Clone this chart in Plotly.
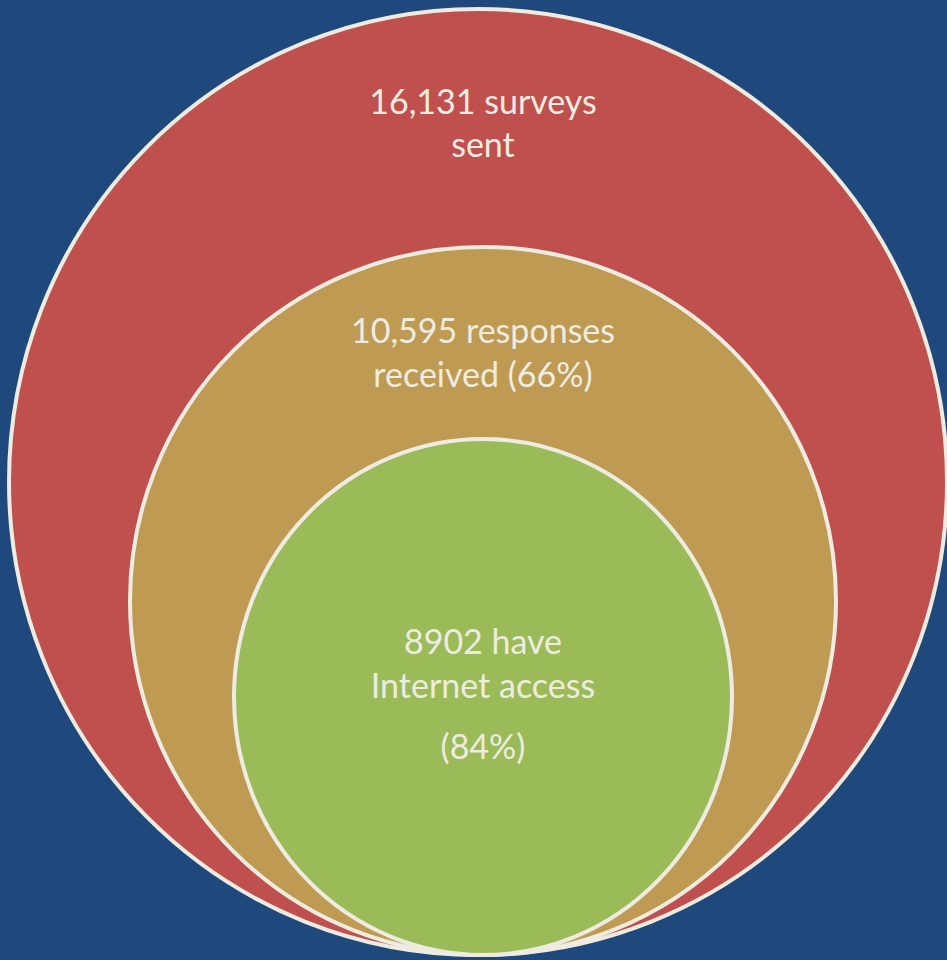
import plotly.graph_objects as go

# Survey funnel: each stage is a subset of the one before it
stages = ["sent", "responses", "internet"]
counts = [16131, 10595, 8902]
fills = ["#C0504D", "#BE9A53", "#9BBB59"]

# Ellipse bounds of each stage (x0, x1, y_top, y_bottom) in page pixels
bounds = [
    (9, 947, 9, 955),
    (130, 836, 247, 955),
    (234, 732, 439, 955),
]

BG = "#1F497D"
EDGE = "#EEECE1"
TEXT = "#EEECE1"

pct_resp = round(100 * counts[1] / counts[0])
pct_net = round(100 * counts[2] / counts[1])

# Label lines and their vertical positions
labels = [
    (f"{counts[0]:,} surveys", 105),
    ("sent", 148),
    (f"{counts[1]:,} responses", 334),
    (f"received ({pct_resp}%)", 378),
    (f"{counts[2]} have", 645),
    ("Internet access", 689),
    (f"({pct_net}%)", 750),
]

fig = go.Figure()

shapes = []
for (x0, x1, yt, yb), col in zip(bounds, fills):
    shapes.append(dict(
        type="circle", xref="x", yref="y",
        x0=x0, x1=x1, y0=yt, y1=yb,
        fillcolor=col, line=dict(color=EDGE, width=4),
        layer="below",
    ))

cx = 483
fig.add_trace(go.Scatter(
    x=[cx] * len(labels),
    y=[y for _, y in labels],
    mode="text",
    text=[t for t, _ in labels],
    textfont=dict(family="Lato", size=34, color=TEXT),
    hoverinfo="skip",
))

fig.update_layout(
    width=947, height=960,
    margin=dict(l=0, r=0, t=0, b=0),
    paper_bgcolor=BG, plot_bgcolor=BG,
    shapes=shapes,
    showlegend=False,
    xaxis=dict(range=[0, 947], visible=False, fixedrange=True),
    yaxis=dict(range=[960, 0], visible=False, fixedrange=True),
)

fig.write_html("out.html")
